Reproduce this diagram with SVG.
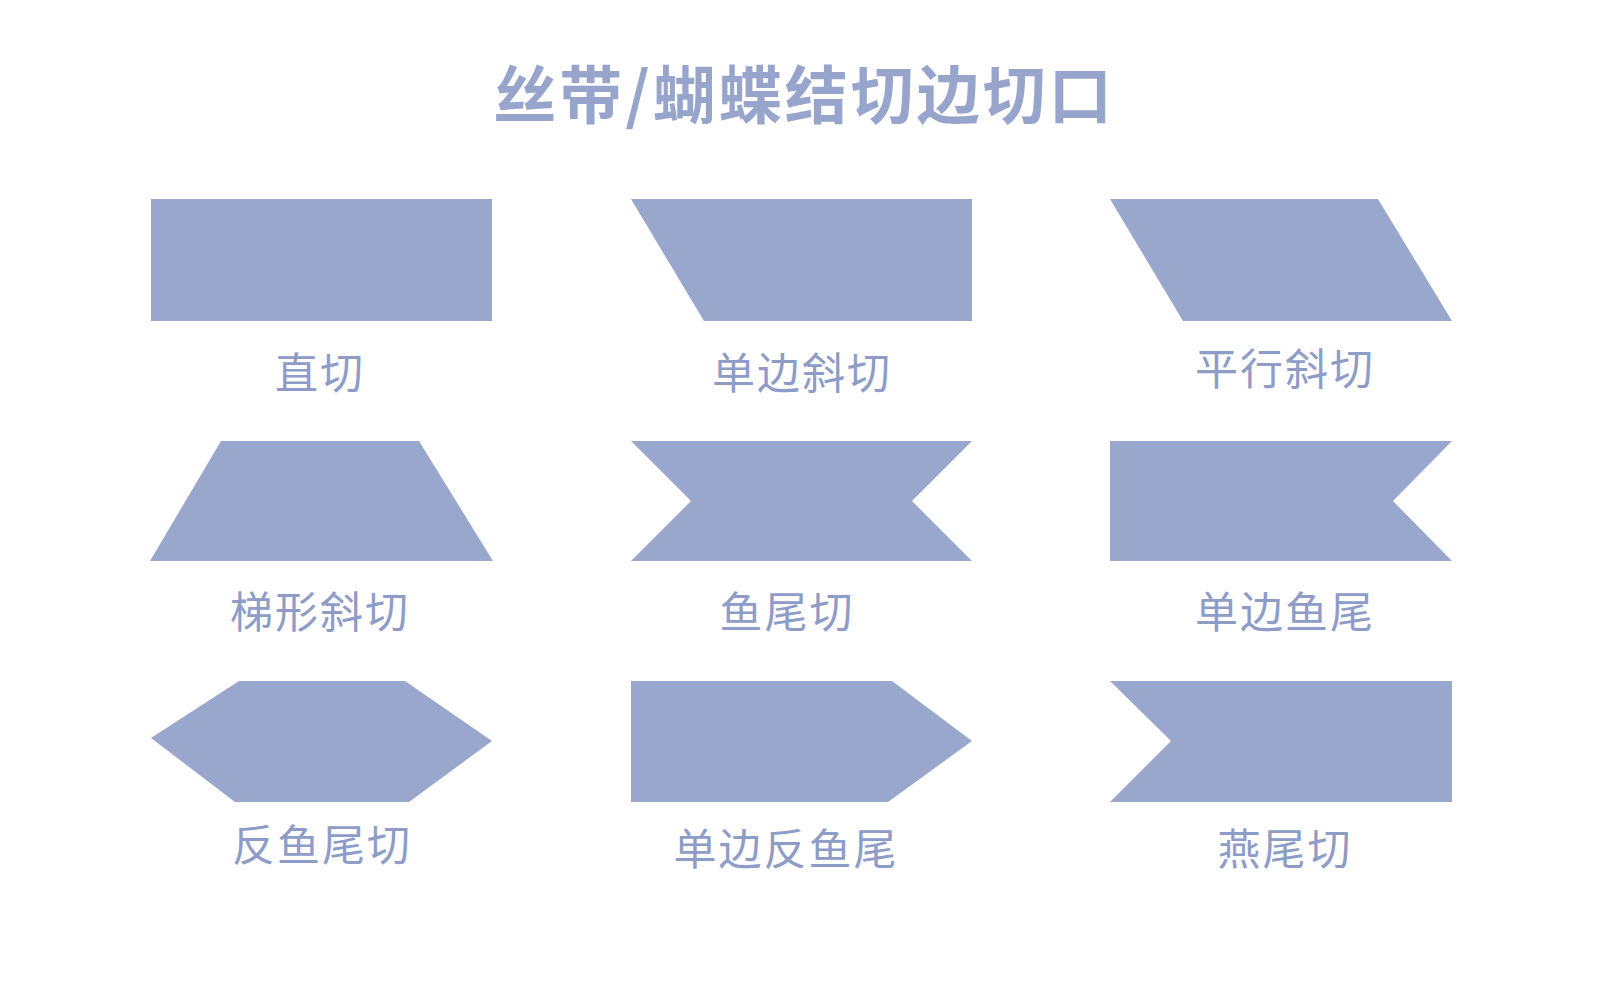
<svg xmlns="http://www.w3.org/2000/svg" width="1600" height="1000" viewBox="0 0 1600 1000">
<style>
.s{fill:#98a7cb}
.t{fill:#8e9cc8;font-family:"Noto Sans CJK SC","Noto Sans",sans-serif;font-size:43px;text-anchor:middle;letter-spacing:2px}
.h{fill:#97a5cc;font-family:"Noto Sans CJK SC","Noto Sans",sans-serif;font-size:63px;font-weight:bold;text-anchor:middle;letter-spacing:3px}
</style>
<rect width="1600" height="1000" fill="#fff"/>
<text class="h" x="804" y="118">丝带/蝴蝶结切边切口</text>
<g id="n1"><rect class="s" x="151" y="199" width="341" height="122"/><text class="t" x="320" y="389">直切</text></g>
<g id="n2"><polygon class="s" points="631,199 972,199 972,321 704,321"/><text class="t" x="802" y="389">单边斜切</text></g>
<g id="n3"><polygon class="s" points="1110,199 1378,199 1452,321 1183,321"/><text class="t" x="1285" y="385">平行斜切</text></g>
<g id="n4"><polygon class="s" points="221,441 419,441 493,561 150,561"/><text class="t" x="320" y="628">梯形斜切</text></g>
<g id="n5"><polygon class="s" points="631,441 972,441 912,501 972,561 631,561 691,501"/><text class="t" x="787" y="628">鱼尾切</text></g>
<g id="n6"><polygon class="s" points="1110,441 1452,441 1393,501 1452,561 1110,561"/><text class="t" x="1285" y="628">单边鱼尾</text></g>
<g id="n7"><polygon class="s" points="239,681 405,681 492,741 409,802 235,802 151,738"/><text class="t" x="322" y="861">反鱼尾切</text></g>
<g id="n8"><polygon class="s" points="631,681 892,681 972,741 888,802 631,802"/><text class="t" x="786" y="865">单边反鱼尾</text></g>
<g id="n9"><polygon class="s" points="1110,681 1452,681 1452,802 1110,802 1171,741"/><text class="t" x="1285" y="865">燕尾切</text></g>
<g id="connectors"/>
</svg>
